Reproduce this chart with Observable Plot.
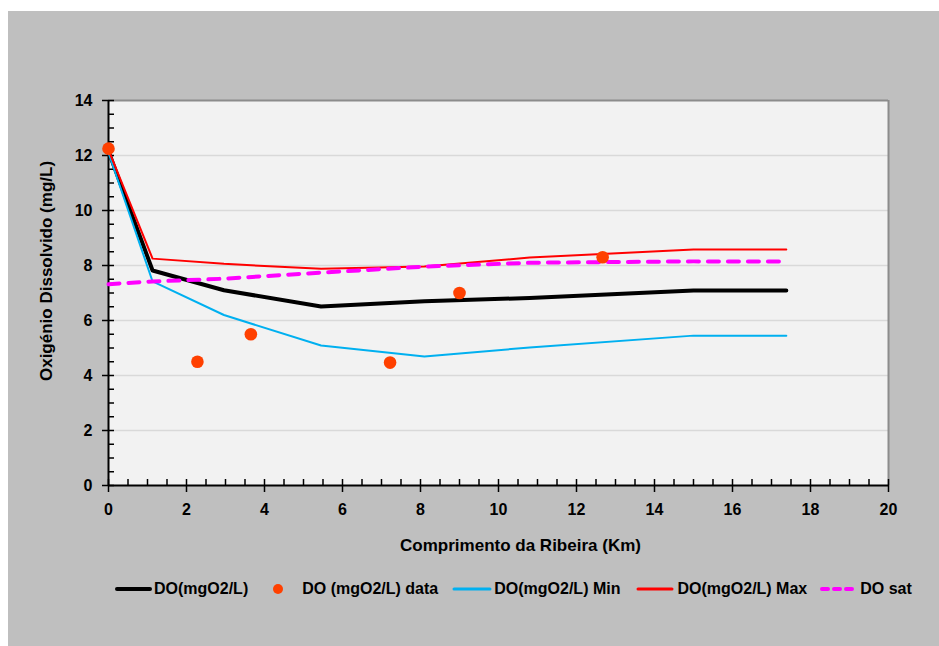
<!DOCTYPE html>
<html>
<head>
<meta charset="utf-8">
<script src="https://cdn.jsdelivr.net/npm/d3@7"></script>
<script src="https://cdn.jsdelivr.net/npm/@observablehq/plot@0.6"></script>
<style>
  html, body { margin: 0; padding: 0; background: #ffffff; }
  body { width: 939px; height: 646px; position: relative; overflow: hidden;
         font-family: "Liberation Sans", Arial, sans-serif; }
  #panel { position: absolute; left: 8px; top: 11px; right: 0; bottom: 0; background: #bfbfbf; }
  #chart { position: absolute; left: 0; top: 0; }
  #legend { position: absolute; left: 115px; top: 578px; height: 22px; display: flex; align-items: center;
            font: bold 16px "Liberation Sans", Arial, sans-serif; color: #000; white-space: nowrap; }
  .item { display: flex; align-items: center; }
  .item svg { display: block; }
</style>
</head>
<body>
<div id="panel"></div>
<div id="chart"></div>
<div id="legend"></div>
<script>
// Distance along the stream (km) at the model nodes
const km = [0, 1.13, 2.96, 5.45, 8.1, 10.8, 15.0, 17.38];
// Simulated dissolved oxygen (mg/L)
const doModel = [12.15, 7.82, 7.1, 6.51, 6.7, 6.82, 7.09, 7.09];
const doMin = [12.1, 7.42, 6.2, 5.09, 4.69, 5.02, 5.45, 5.45];
const doMax = [12.2, 8.25, 8.06, 7.88, 7.96, 8.29, 8.58, 8.58];
const doSat = [7.32, 7.42, 7.52, 7.74, 7.96, 8.1, 8.15, 8.15];
// Field measurements
const obsKm = [0, 2.28, 3.65, 7.22, 9.0, 12.67];
const obsDO = [12.25, 4.5, 5.5, 4.47, 7.0, 8.3];

const seriesNames = ["DO(mgO2/L)", "DO (mgO2/L) data", "DO(mgO2/L) Min", "DO(mgO2/L) Max", "DO sat"];
const xTicks = [0, 2, 4, 6, 8, 10, 12, 14, 16, 18, 20];
const yTicks = [0, 2, 4, 6, 8, 10, 12, 14];
const xMinor = d3.range(0, 20.01, 0.5);
const yMinor = d3.range(0, 14.01, 0.5);
const gridY = [2, 4, 6, 8, 10, 12];
const xTitle = "Comprimento da Ribeira (Km)";
const yTitle = "Oxigénio Dissolvido (mg/L)";

const toRows = (ys) => km.map((x, i) => ({x, y: ys[i]}));
const obs = obsKm.map((x, i) => ({x, y: obsDO[i]}));

const colors = {model: "#000000", obs: "#ff4000", min: "#00b0f0", max: "#ff0000", sat: "#ff00ff"};
const tickFont = {fontSize: 16, fontWeight: "bold", fill: "#000"};
const titleFont = {fontSize: 17, fontWeight: "bold", fill: "#000", textAnchor: "middle", lineAnchor: "middle"};

const chart = Plot.plot({
  width: 939,
  height: 560,
  marginLeft: 108,
  marginRight: 51,
  marginTop: 100,
  marginBottom: 75,
  style: {background: "transparent", fontFamily: "'Liberation Sans', Arial, sans-serif", color: "#000", overflow: "visible"},
  x: {domain: [0, 20]},
  y: {domain: [0, 14]},
  marks: [
    Plot.frame({fill: "#f2f2f2", stroke: null}),
    Plot.ruleY(gridY, {stroke: "#d9d9d9", strokeWidth: 1.5}),
    Plot.ruleY([14], {stroke: "#8c8c8c", strokeWidth: 2}),
    Plot.ruleX([20], {stroke: "#8c8c8c", strokeWidth: 2}),
    // axis lines
    Plot.ruleX([0], {stroke: "#000", strokeWidth: 2}),
    Plot.ruleY([0], {stroke: "#000", strokeWidth: 2}),
    // outward major ticks with labels
    Plot.axisY(yTicks, {anchor: "left", tickSize: 6, tickPadding: 10, strokeWidth: 1.5, ...tickFont, label: null}),
    Plot.axisX(xTicks, {anchor: "bottom", tickSize: 7, tickPadding: 11, strokeWidth: 1.5, ...tickFont, label: null}),
    // inward ticks (major and minor)
    Plot.axisY(yMinor, {anchor: "left", tickSize: -6, text: null, strokeWidth: 1.5, label: null}),
    Plot.axisX(xMinor, {anchor: "bottom", tickSize: -6, text: null, strokeWidth: 1.5, label: null}),
    // axis titles
    Plot.text([yTitle], {text: d => d, frameAnchor: "left", rotate: -90, dx: -62, dy: -22, ...titleFont}),
    Plot.text([xTitle], {text: d => d, frameAnchor: "bottom", dx: 22, dy: 60, ...titleFont}),
    // series
    Plot.line(toRows(doModel), {x: "x", y: "y", stroke: colors.model, strokeWidth: 4}),
    Plot.line(toRows(doMin), {x: "x", y: "y", stroke: colors.min, strokeWidth: 2}),
    Plot.line(toRows(doMax), {x: "x", y: "y", stroke: colors.max, strokeWidth: 2}),
    Plot.line(toRows(doSat), {x: "x", y: "y", stroke: colors.sat, strokeWidth: 4, strokeDasharray: "11,9", strokeLinecap: "round"}),
    Plot.dot(obs, {x: "x", y: "y", r: 6.3, fill: colors.obs, stroke: null})
  ]
});
document.getElementById("chart").appendChild(chart);

// Legend below the chart
const legend = document.getElementById("legend");
const swatch = (kind, color, w) => {
  const ns = "http://www.w3.org/2000/svg";
  const s = document.createElementNS(ns, "svg");
  s.setAttribute("width", w); s.setAttribute("height", 16);
  if (kind === "dot") {
    const c = document.createElementNS(ns, "circle");
    c.setAttribute("cx", w / 2); c.setAttribute("cy", 8); c.setAttribute("r", 5);
    c.setAttribute("fill", color);
    s.appendChild(c);
  } else {
    const l = document.createElementNS(ns, "line");
    l.setAttribute("x1", 2); l.setAttribute("x2", w - 2); l.setAttribute("y1", 8); l.setAttribute("y2", 8);
    l.setAttribute("stroke", color);
    l.setAttribute("stroke-width", kind === "thick" || kind === "dash" ? 4 : 3);
    if (kind === "dash") { l.setAttribute("stroke-dasharray", "6,6"); }
    l.setAttribute("stroke-linecap", "round");
    s.appendChild(l);
  }
  return s;
};
const items = [
  {kind: "thick", color: colors.model, w: 37, gap: 2, ml: 0},
  {kind: "dot", color: colors.obs, w: 12, gap: 18, ml: 24},
  {kind: "thin", color: colors.min, w: 40, gap: 2, ml: 14},
  {kind: "thin", color: colors.max, w: 38, gap: 3, ml: 16},
  {kind: "dash", color: colors.sat, w: 38, gap: 2, ml: 13}
];
items.forEach((it, i) => {
  const div = document.createElement("div");
  div.className = "item";
  div.style.marginLeft = it.ml + "px";
  const sw = swatch(it.kind, it.color, it.w);
  sw.style.marginRight = it.gap + "px";
  div.appendChild(sw);
  const span = document.createElement("span");
  span.textContent = seriesNames[i];
  div.appendChild(span);
  legend.appendChild(div);
});
</script>
</body>
</html>
